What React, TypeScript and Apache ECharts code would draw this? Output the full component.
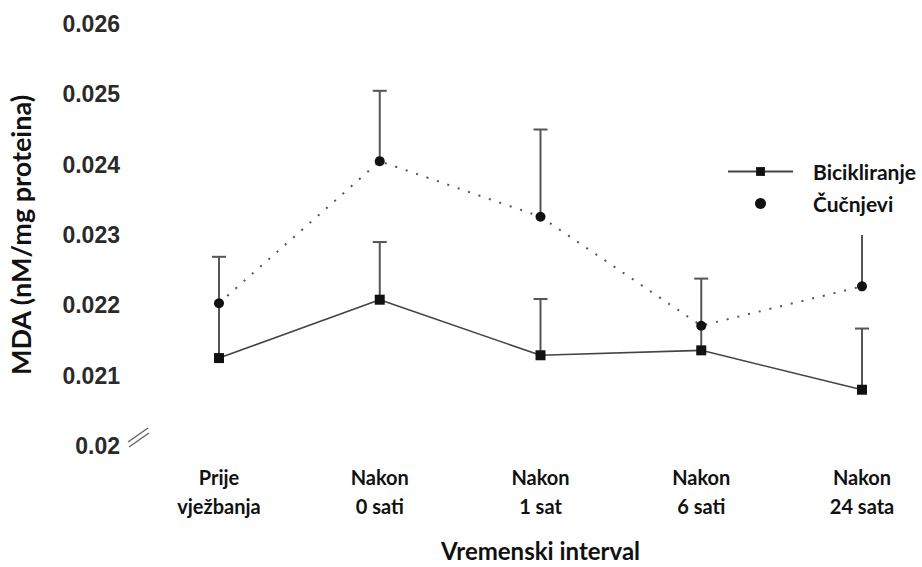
import React, { useEffect, useRef } from "react";
import * as echarts from "echarts";

const categories = ["Prije\nvježbanja", "Nakon\n0 sati", "Nakon\n1 sat", "Nakon\n6 sati", "Nakon\n24 sata"];
const yTicks = [0.02, 0.021, 0.022, 0.023, 0.024, 0.025, 0.026];
const bicikliranje = [0.02125, 0.02208, 0.02129, 0.02136, 0.0208];
const bicikliranjeUpper = [0.02203, 0.0229, 0.02209, 0.02171, 0.02167];
const bicikliranjeCap = [0, 1, 1, 0, 1];
const cucnjevi = [0.02203, 0.02405, 0.02326, 0.02171, 0.02227];
const cucnjeviUpper = [0.02269, 0.02505, 0.0245, 0.02238, 0.023];
const cucnjeviCap = [1, 1, 1, 1, 0];

const LABEL_FONT = "Lato, 'Open Sans', sans-serif";

function errData(mean: number[], upper: number[], cap: number[]) {
  return mean.map((m, i) => [i, m, upper[i], cap[i]]);
}

function renderErr(params: any, api: any) {
  const x = api.value(0);
  const p1 = api.coord([x, api.value(1)]);
  const p2 = api.coord([x, api.value(2)]);
  const style = { stroke: "#555", lineWidth: 2 };
  const children: any[] = [
    { type: "line", shape: { x1: p1[0], y1: p1[1], x2: p2[0], y2: p2[1] }, style },
  ];
  if (api.value(3)) {
    children.push({ type: "line", shape: { x1: p2[0] - 7, y1: p2[1], x2: p2[0] + 7, y2: p2[1] }, style });
  }
  return { type: "group", children };
}

export default function App() {
  const ref = useRef<HTMLDivElement>(null);
  useEffect(() => {
    const chart = echarts.init(ref.current!, null, { renderer: "svg" });
    chart.setOption({
      animation: false,
      backgroundColor: "#ffffff",
      grid: { left: 219, right: 60, top: 24, bottom: 121, containLabel: false, outerBoundsMode: "none" },
      xAxis: {
        type: "value",
        min: 0,
        max: categories.length - 1,
        interval: 1,
        name: "Vremenski interval",
        nameLocation: "middle",
        nameGap: 92,
        nameTextStyle: { fontFamily: LABEL_FONT, fontWeight: "bold", fontSize: 24, color: "#111" },
        axisLine: { show: false },
        axisTick: { show: false },
        splitLine: { show: false },
        axisLabel: {
          margin: 16,
          formatter: (v: number) => categories[Math.round(v)] ?? "",
          fontFamily: LABEL_FONT,
          fontWeight: "bold",
          fontSize: 20,
          lineHeight: 29,
          color: "#111",
        },
      },
      yAxis: {
        type: "value",
        min: yTicks[0],
        max: yTicks[yTicks.length - 1],
        interval: 0.001,
        name: "MDA (nM/mg proteina)",
        nameLocation: "middle",
        nameRotate: 90,
        nameGap: 185,
        nameTextStyle: { fontFamily: LABEL_FONT, fontWeight: "bold", fontSize: 27, color: "#111" },
        axisLine: { show: false },
        axisTick: { show: false },
        splitLine: { show: false },
        axisLabel: {
          margin: 99,
          formatter: (v: number) => (Math.abs(v - 0.02) < 1e-9 ? "0.02" : v.toFixed(3)),
          fontFamily: "'Liberation Sans', Arial, sans-serif",
          fontWeight: "bold",
          fontSize: 23,
          color: "#2a2a2a",
        },
      },
      legend: {
        orient: "vertical",
        left: 722,
        top: 156,
        itemWidth: 65,
        itemHeight: 11,
        itemGap: 11,
        textStyle: { fontFamily: LABEL_FONT, fontWeight: "bold", fontSize: 21, color: "#111", padding: [0, 0, 0, 15] },
        data: [
          { name: "Bicikliranje" },
          { name: "Čučnjevi", icon: "circle", itemStyle: { color: "#111" } },
        ],
      },
      series: [
        {
          type: "custom",
          name: "errB",
          renderItem: renderErr,
          data: errData(bicikliranje, bicikliranjeUpper, bicikliranjeCap),
          z: 1,
          silent: true,
        },
        {
          type: "custom",
          name: "errC",
          renderItem: renderErr,
          data: errData(cucnjevi, cucnjeviUpper, cucnjeviCap),
          z: 1,
          silent: true,
        },
        {
          type: "line",
          name: "Bicikliranje",
          data: bicikliranje.map((v, i) => [i, v]),
          symbol: "rect",
          symbolSize: 10,
          itemStyle: { color: "#111" },
          lineStyle: { color: "#444", width: 1.6 },
          z: 3,
        },
        {
          type: "line",
          name: "Čučnjevi",
          data: cucnjevi.map((v, i) => [i, v]),
          symbol: "circle",
          symbolSize: 10,
          itemStyle: { color: "#111" },
          lineStyle: { color: "#555", width: 2, type: [2, 9] },
          z: 3,
        },
      ],
      graphic: [
        { type: "line", shape: { x1: 128, y1: 442, x2: 148, y2: 428 }, style: { stroke: "#666", lineWidth: 1.5 } },
        { type: "line", shape: { x1: 129, y1: 447, x2: 149, y2: 433 }, style: { stroke: "#666", lineWidth: 1.5 } },
      ],
    });
    return () => chart.dispose();
  }, []);
  return (
    <div
      ref={ref}
      style={{ width: 922, height: 567, position: "fixed", left: 0, top: 0, background: "#fff" }}
    />
  );
}
